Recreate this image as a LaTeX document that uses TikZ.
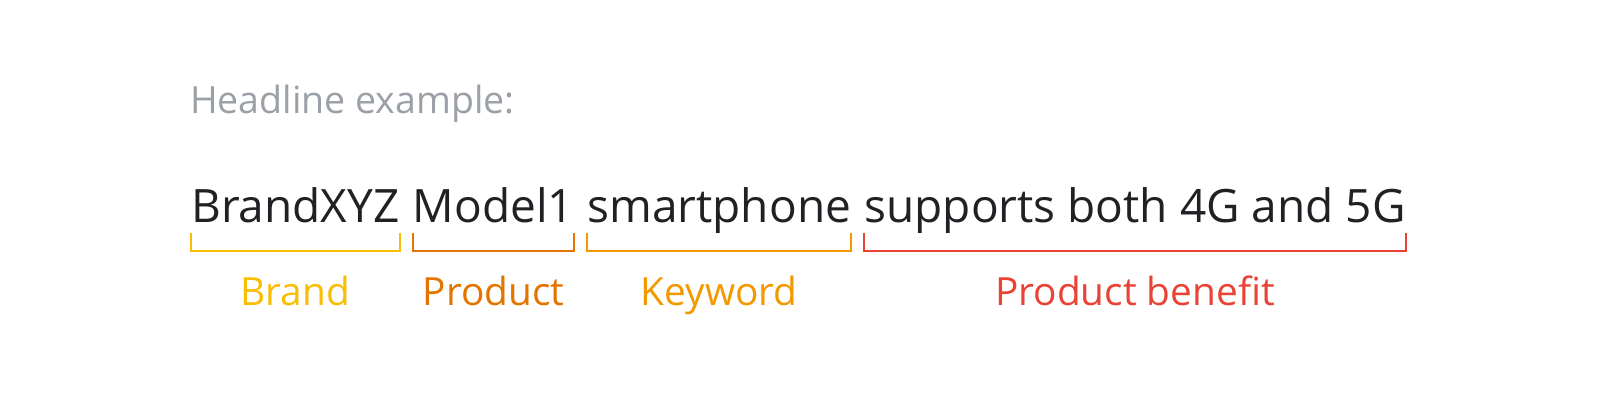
\documentclass[tikz,border=0pt]{standalone}
\usepackage{fontspec}
\setmainfont{Open Sans}
\usepackage{xcolor}
\usetikzlibrary{positioning}
\definecolor{ink}{HTML}{202124}
\definecolor{greytxt}{HTML}{9AA0A6}
\definecolor{brandcol}{HTML}{FBBC04}
\definecolor{prodcol}{HTML}{E37400}
\definecolor{keycol}{HTML}{F29900}
\definecolor{benefitcol}{HTML}{EA4335}
\begin{document}
\begin{tikzpicture}[x=1pt, y=-1pt]
    \tikzstyle{head} = [inner sep=0, anchor=base west, text=ink, font=\fontsize{46}{50}\selectfont]
    \tikzstyle{tag} = [inner sep=0, anchor=base, font=\fontsize{38.8}{42}\selectfont]
    \tikzstyle{brace} = [line width=2pt]
    \useasboundingbox (0,0) rectangle (1601,411);

    \node [inner sep=0, anchor=base west, text=greytxt, font=\fontsize{37.5}{40}\selectfont] (title) at (190,114) {Headline example:};

    \node [head] (brand) at (191,223) {BrandXYZ};
    \node [head, base right=13pt of brand] (model) {Model1};
    \node [head, base right=13pt of model] (kw) {smartphone};
    \node [head, base right=13pt of kw] (bene) {supports both 4G and 5G};

    \draw [brace, brandcol] ([yshift=-10pt]brand.base west) -- ([yshift=-28pt]brand.base west) -- ([yshift=-28pt]brand.base east) -- ([yshift=-10pt]brand.base east);
    \draw [brace, prodcol] ([yshift=-10pt]model.base west) -- ([yshift=-28pt]model.base west) -- ([yshift=-28pt]model.base east) -- ([yshift=-10pt]model.base east);
    \draw [brace, keycol] ([yshift=-10pt]kw.base west) -- ([yshift=-28pt]kw.base west) -- ([yshift=-28pt]kw.base east) -- ([yshift=-10pt]kw.base east);
    \draw [brace, benefitcol] ([yshift=-10pt]bene.base west) -- ([yshift=-28pt]bene.base west) -- ([yshift=-28pt]bene.base east) -- ([yshift=-10pt]bene.base east);

    \node [tag, text=brandcol] (brandlbl) at ([yshift=-83pt]brand.base) {Brand};
    \node [tag, text=prodcol] (modellbl) at ([yshift=-83pt]model.base) {Product};
    \node [tag, text=keycol] (kwlbl) at ([yshift=-83pt]kw.base) {Keyword};
    \node [tag, text=benefitcol] (benelbl) at ([yshift=-83pt]bene.base) {Product benefit};
\end{tikzpicture}
\end{document}
